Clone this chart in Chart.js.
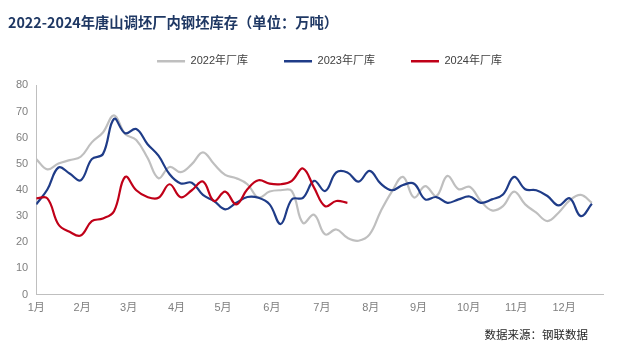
<!DOCTYPE html>
<html><head><meta charset="utf-8">
<script src="https://cdn.jsdelivr.net/npm/chart.js@4/dist/chart.umd.min.js"></script>
<style>html,body{margin:0;padding:0;background:#fff;}#wrap{width:620px;height:356px;}</style>
</head><body><div id="wrap"><canvas id="c" width="620" height="356"></canvas></div>
<script>
const TITLE = '2022-2024年唐山调坯厂内钢坯库存（单位：万吨）';
const SOURCE = '数据来源：钢联数据';
const SERIES_NAMES = ['2022年厂库', '2023年厂库', '2024年厂库'];
const MONTH_LABELS = ['1月','2月','3月','4月','5月','6月','7月','8月','9月','10月','11月','12月'];
const MONTH_TICKS = [0, 4.13, 8.31, 12.62, 16.8, 21.2, 25.7, 30.1, 34.4, 38.9, 43.2, 47.5];
const STOCK_2022 = [51.8,47.9,50.1,51.4,52.7,58.2,62.0,68.5,61.4,59.1,52.4,44.5,48.8,46.8,49.9,54.4,49.9,45.8,44.5,42.2,37.1,39.4,39.9,39.6,27.4,30.5,23.0,24.9,21.7,20.6,23.0,31.9,39.4,45.0,37.1,41.5,37.7,45.4,40.3,41.2,35.8,32.2,33.8,39.4,34.5,31.3,28.1,31.3,36.0,38.1,35.1];
const STOCK_2023 = [34.5,40.2,48.6,46.3,43.7,51.8,53.7,67.2,61.7,63.3,57.6,53.1,46.0,42.5,42.8,38.1,35.8,32.6,35.1,37.3,37.0,34.5,27.0,36.4,37.0,43.5,39.6,46.7,46.7,43.2,47.3,42.4,39.9,41.9,42.4,36.4,37.3,35.1,36.4,37.5,35.1,36.4,38.3,45.0,40.3,39.9,37.7,34.1,36.8,30.0,34.7];
const STOCK_2024 = [36.8,36.8,26.8,24.0,22.6,28.1,29.1,31.9,45.0,39.9,37.3,37.0,42.2,37.2,39.9,43.2,35.8,39.4,34.5,40.3,43.7,42.4,42.2,43.5,48.2,40.9,33.8,35.8,35.1];

const COLORS = ['#BFBFBF', '#1F3C88', '#C00018'];
const CJK = '"Noto Sans CJK SC", sans-serif';
const NUMF = '"Liberation Sans", "Noto Sans CJK SC", sans-serif';

const toPts = arr => arr.map((v, i) => ({x: i, y: v}));

const tweak = {
  id: 'tweak',
  afterLayout(chart) {
    const lg = chart.legend;
    if (lg) { lg.left += 24; lg.right += 24; lg.top -= 11.5; lg.bottom -= 11.5; }
  },
  afterDraw(chart) {
    const ctx = chart.ctx;
    ctx.save();
    ctx.font = '11.5px ' + CJK;
    ctx.fillStyle = '#262626';
    ctx.textAlign = 'right';
    ctx.textBaseline = 'middle';
    ctx.fillText(SOURCE, 588, 335);
    ctx.restore();
  }
};

new Chart(document.getElementById('c'), {
  type: 'line',
  data: {
    datasets: [STOCK_2022, STOCK_2023, STOCK_2024].map((arr, i) => ({
      label: SERIES_NAMES[i],
      data: toPts(arr),
      borderColor: COLORS[i],
      backgroundColor: COLORS[i],
      borderWidth: 2.2,
      pointRadius: 0,
      tension: 0.4,
      fill: false,
      order: 2 - i
    }))
  },
  options: {
    responsive: false,
    animation: false,
    devicePixelRatio: 1,
    layout: {padding: {left: 8, right: 17, top: 0, bottom: 35}},
    plugins: {
      tooltip: {enabled: false},
      title: {
        display: true, text: TITLE, align: 'start', color: '#1F3864',
        font: {family: CJK, size: 14.3, weight: 'bold', lineHeight: 1.2},
        padding: {top: 14, bottom: 0}
      },
      legend: {
        display: true, position: 'top', align: 'center', maxHeight: 54.2,
        labels: {
          boxWidth: 28, boxHeight: 2.5, padding: 36, color: '#404040',
          font: {family: NUMF, size: 11},
          sort: (a, b) => a.datasetIndex - b.datasetIndex,
          generateLabels: (chart) => Chart.defaults.plugins.legend.labels.generateLabels(chart).map(it => Object.assign(it, {lineWidth: 0, fillStyle: it.strokeStyle}))
        }
      }
    },
    scales: {
      x: {
        type: 'linear', min: 0, max: 51,
        grid: {display: false, drawTicks: false},
        border: {display: true, color: '#BFBFBF', width: 1},
        afterBuildTicks: (scale) => { scale.ticks = MONTH_TICKS.map(v => ({value: v})); },
        ticks: {
          autoSkip: false, maxRotation: 0, padding: 6.6, color: '#7F7F7F',
          font: {family: NUMF, size: 11},
          callback: (val, idx) => MONTH_LABELS[idx]
        }
      },
      y: {
        min: 0, max: 80,
        grid: {display: false, drawTicks: false},
        border: {display: true, color: '#BFBFBF', width: 1},
        ticks: {stepSize: 10, padding: 8, color: '#7F7F7F', font: {family: NUMF, size: 11}}
      }
    }
  },
  plugins: [tweak]
});
</script></body></html>
